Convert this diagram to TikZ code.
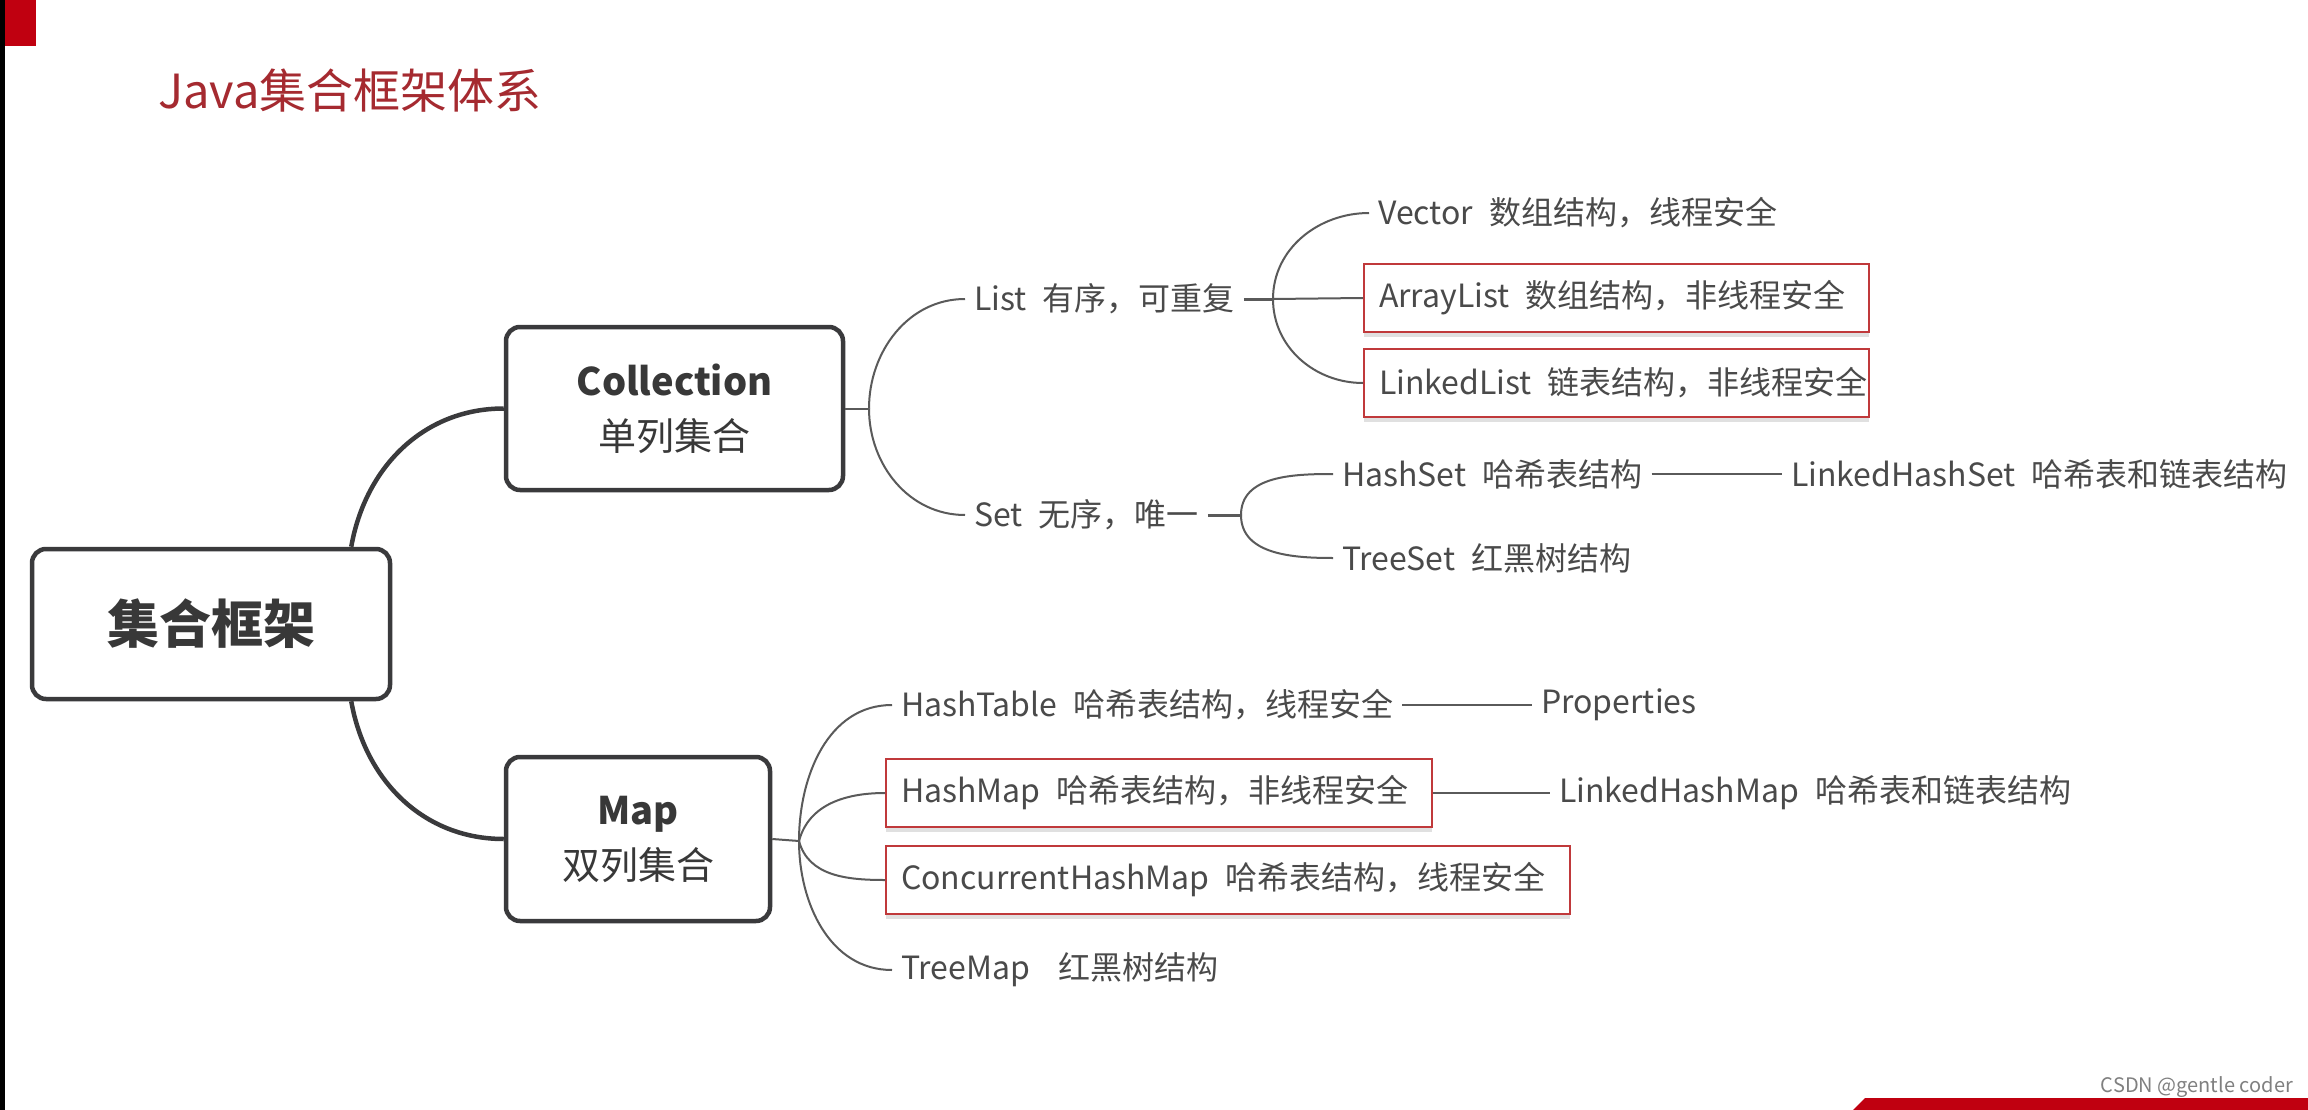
\documentclass[tikz,border=0pt]{standalone}
\usepackage{fontspec}
\setmainfont{Noto Sans CJK SC}
\usetikzlibrary{shadows}
\definecolor{edgec}{HTML}{5A5A5A}
\definecolor{boxline}{HTML}{3A3A3C}
\definecolor{txt}{HTML}{383838}
\definecolor{leafc}{HTML}{4A4A4A}
\definecolor{hl}{HTML}{C0393B}
\definecolor{titlec}{HTML}{A52A30}
\definecolor{blockred}{HTML}{C00010}
\newcommand\gp{\hspace{0.5em}}
\begin{document}
\begin{tikzpicture}[x=1pt,y=-1pt,
  mainbox/.style={draw=boxline, line width=4.5pt, rounded corners=14pt, fill=white, text=txt, align=center},
  leaf/.style={anchor=west, inner xsep=9pt, inner ysep=4pt, text=leafc, font=\fontsize{32}{37}\selectfont},
  hlbox/.style={leaf, draw=hl, line width=2.2pt, fill=white, inner xsep=15pt, minimum height=68pt, align=left,
    drop shadow={shadow xshift=0pt, shadow yshift=-5pt, opacity=0.12, fill=black}},
  thinedge/.style={draw=edgec, line width=2pt},
  stubedge/.style={draw=edgec, line width=3pt},
  thickedge/.style={draw=boxline, line width=4.5pt},
]
\useasboundingbox (0,0) rectangle (2308,1110);
\fill[white] (0,0) rectangle (2308,1110);
\fill[black] (0,0) rectangle (5,1110);
\fill[blockred] (5,0) rectangle (36,46);

\node[anchor=west, text=titlec, font=\fontsize{47}{52}\selectfont, inner sep=0] (title) at (158,91) {Java集合框架体系};

% main boxes
\node[mainbox, minimum width=358pt, minimum height=150pt, font=\bfseries\fontsize{52}{60}\selectfont] (root) at (211,624) {集合框架};
\node[mainbox, minimum width=337pt, minimum height=163pt, font=\fontsize{38}{55}\selectfont] (coll) at (674.5,408.5) {\textbf{Collection}\\单列集合};
\node[mainbox, minimum width=264pt, minimum height=164pt, font=\fontsize{38}{55}\selectfont] (map) at (638,839) {\textbf{Map}\\双列集合};

\draw[thickedge] ([xshift=-41pt]root.north east) to[out=80,in=180] (coll.west);
\draw[thickedge] ([xshift=-41pt]root.south east) to[out=-80,in=180] (map.west);

% Collection branch
\node[leaf] (list) at (965,299) {List\gp 有序，可重复};
\node[leaf] (set) at (965,515) {Set\gp 无序，唯一};
\coordinate (cb) at (869,408.5);
\draw[thinedge] (coll.east) -- (cb);
\draw[thinedge] (cb) to[out=90,in=180] (list.west);
\draw[thinedge] (cb) to[out=-90,in=180] (set.west);

% List children
\node[leaf] (vec) at (1369,213) {Vector\gp 数组结构，线程安全};
\node[hlbox, text width=475pt] (al) at (1363,298) {\mbox{ArrayList\gp 数组结构，非线程安全}};
\node[hlbox, text width=475pt] (ll) at (1363,383) {\mbox{LinkedList\gp 链表结构，非线程安全}};
\coordinate (lb) at (1273,299);
\draw[stubedge] (list.east) -- (lb);
\draw[thinedge] (lb) to[out=90,in=180] (vec.west);
\draw[thinedge] (lb) -- (al.west);
\draw[thinedge] (lb) to[out=-90,in=180] (ll.west);

% Set children
\node[leaf] (hs) at (1333,474) {HashSet\gp 哈希表结构};
\node[leaf] (lhs) at (1782,474) {LinkedHashSet\gp 哈希表和链表结构};
\node[leaf] (ts) at (1333,558) {TreeSet\gp 红黑树结构};
\coordinate (sb) at (1241,515);
\draw[stubedge] (set.east) -- (sb);
\draw[thinedge] (sb) to[out=90,in=180] (hs.west);
\draw[thinedge] (sb) to[out=-90,in=180] (ts.west);
\draw[thinedge] (hs.east) -- (lhs.west);

% Map children
\node[leaf] (ht) at (892,705) {HashTable\gp 哈希表结构，线程安全};
\node[leaf] (prop) at (1532,705) {Properties};
\node[hlbox, text width=516pt] (hm) at (885,793) {\mbox{HashMap\gp 哈希表结构，非线程安全}};
\node[leaf] (lhm) at (1550,793) {LinkedHashMap\gp 哈希表和链表结构};
\node[hlbox, text width=654pt] (chm) at (885,880) {\mbox{ConcurrentHashMap\gp 哈希表结构，线程安全}};
\node[leaf] (tm) at (892,970) {TreeMap\hspace{0.9em}红黑树结构};
\coordinate (mb) at (799,841);
\draw[thinedge] (map.east) -- (mb);
\draw[thinedge] (mb) to[out=90,in=180] (ht.west);
\draw[thinedge] (mb) to[out=75,in=180] (hm.west);
\draw[thinedge] (mb) to[out=-75,in=180] (chm.west);
\draw[thinedge] (mb) to[out=-90,in=180] (tm.west);
\draw[thinedge] (ht.east) -- (prop.west);
\draw[thinedge] (hm.east) -- (lhm.west);

% footer
\node[anchor=east, text=black!50, font=\fontsize{20}{22}\selectfont, inner sep=0] (wm) at (2293,1087) {CSDN @gentle coder};
\fill[blockred] (1853,1110) -- (1865,1098) -- (2308,1098) -- (2308,1110) -- cycle;
\end{tikzpicture}
\end{document}
